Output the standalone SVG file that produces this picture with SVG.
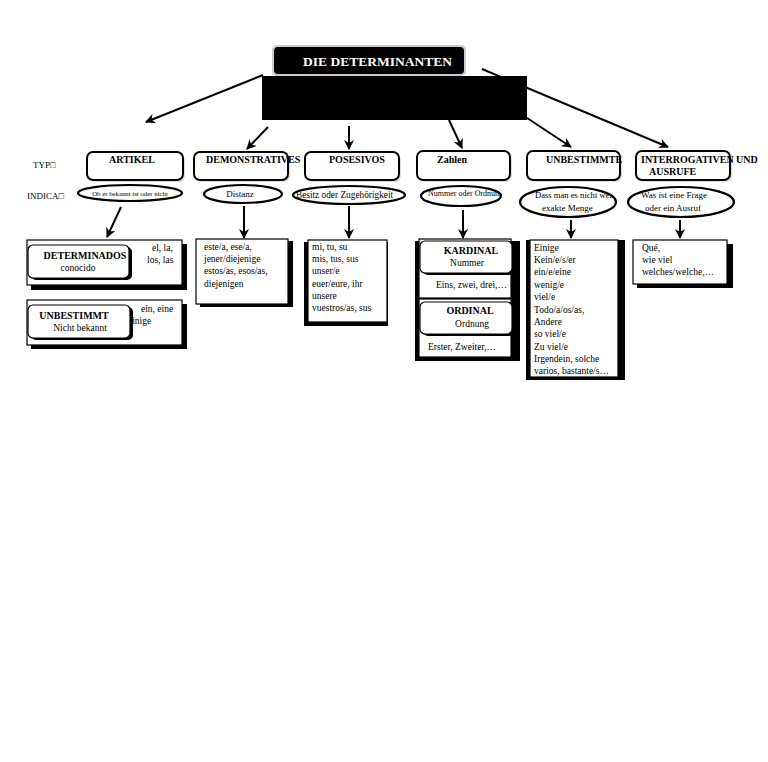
<svg xmlns="http://www.w3.org/2000/svg" width="768" height="762" viewBox="0 0 768 762">
<style>
text{font-family:"Liberation Serif","Times New Roman",serif;fill:#000}
.b{font-weight:bold}
.t{font-size:10px;font-weight:bold}
.c{font-size:9.5px}
.typ{fill:#fff;stroke:#000;stroke-width:2}
.ell{fill:#fff;stroke:#000;stroke-width:2.2}
.box{fill:#fff;stroke:#000;stroke-width:1.2}
.sh{fill:#000}
.soft{fill:#bbb;opacity:0.5}
.conn line{stroke:#000;stroke-width:2;marker-end:url(#ah)}
</style>
<defs>
<marker id="ah" viewBox="0 0 10 10" refX="9" refY="5" markerWidth="5" markerHeight="5" orient="auto" markerUnits="strokeWidth">
<path d="M0,0 L10,5 L0,10 L3,5 z" fill="#000"/>
</marker>
<clipPath id="cl1"><ellipse cx="130" cy="193" rx="51" ry="7.5"/></clipPath>
<clipPath id="cl3"><ellipse cx="349" cy="195" rx="55" ry="8.5"/></clipPath>
<clipPath id="cl4"><ellipse cx="461" cy="196" rx="39" ry="9.5"/></clipPath>
<clipPath id="cl5"><ellipse cx="568" cy="202" rx="48" ry="15"/></clipPath>
</defs>
<rect width="768" height="762" fill="#fff"/>

<g id="title">
<rect x="272" y="45" width="194" height="31" rx="5" fill="#ccc"/>
<rect x="274" y="47" width="190" height="27" rx="4" fill="#000"/>
<text x="303" y="66" class="b" font-size="13.5" style="fill:#fff">DIE DETERMINANTEN</text>
</g>
<g id="blackbox">
<rect x="262" y="76" width="265" height="44" fill="#000"/>
</g>

<g id="labels">
<text x="33" y="168" font-size="9">TYP□</text>
<text x="27" y="199" font-size="9">INDICA□</text>
</g>

<g class="conn" id="connectors">
<line x1="263" y1="75" x2="146" y2="122"/>
<line x1="268" y1="127" x2="247" y2="149"/>
<line x1="349" y1="126" x2="349" y2="149"/>
<line x1="449" y1="120" x2="462" y2="148"/>
<line x1="527" y1="118" x2="571" y2="147"/>
<line x1="482" y1="69" x2="668" y2="147"/>
<line x1="121" y1="207" x2="107" y2="237"/>
<line x1="244" y1="206" x2="244" y2="238"/>
<line x1="349" y1="206" x2="349" y2="238"/>
<line x1="463" y1="210" x2="463" y2="238"/>
<line x1="571" y1="220" x2="571" y2="238"/>
<line x1="680" y1="220" x2="680" y2="238"/>
</g>

<g id="artikel">
<rect x="89" y="154" width="96" height="28" rx="6" class="soft"/>
<rect x="87" y="152" width="96" height="28" rx="6" class="typ"/>
<text x="132" y="163" text-anchor="middle" class="t">ARTIKEL</text>
</g>
<g id="demonstratives">
<rect x="196" y="154" width="94" height="28" rx="6" class="soft"/>
<rect x="194" y="152" width="94" height="28" rx="6" class="typ"/>
<text x="206" y="163" class="t">DEMONSTRATIVES</text>
</g>
<g id="posesivos">
<rect x="307" y="154" width="94" height="28" rx="6" class="soft"/>
<rect x="305" y="152" width="94" height="28" rx="6" class="typ"/>
<text x="329" y="163" class="t">POSESIVOS</text>
</g>
<g id="zahlen">
<rect x="419" y="153" width="93" height="29" rx="6" class="soft"/>
<rect x="417" y="151" width="93" height="29" rx="6" class="typ"/>
<text x="437" y="163" class="t">Zahlen</text>
</g>
<g id="unbestimmte">
<rect x="529" y="153" width="93" height="29" rx="6" class="soft"/>
<rect x="527" y="151" width="93" height="29" rx="6" class="typ"/>
<text x="546" y="163" class="t">UNBESTIMMTE</text>
</g>
<g id="interrogativen">
<rect x="638" y="153" width="94" height="29" rx="6" class="soft"/>
<rect x="636" y="151" width="94" height="29" rx="6" class="typ"/>
<text x="641" y="163" class="t">INTERROGATIVEN UND</text>
<text x="649" y="175" class="t">AUSRUFE</text>
</g>

<g id="ind-artikel">
<ellipse cx="130" cy="193" rx="52" ry="8" class="ell"/>
<text x="130" y="195.5" text-anchor="middle" font-size="6.8" clip-path="url(#cl1)">Ob er bekannt ist oder nicht</text>
</g>
<g id="ind-demo">
<ellipse cx="243" cy="194" rx="39" ry="9" class="ell"/>
<text x="240" y="197" text-anchor="middle" font-size="9">Distanz</text>
</g>
<g id="ind-pos">
<ellipse cx="349" cy="195" rx="56" ry="9" class="ell"/>
<text x="296" y="198" font-size="9.3" clip-path="url(#cl3)">Besitz oder Zugehörigkeit</text>
</g>
<g id="ind-zahlen">
<ellipse cx="461" cy="196" rx="40" ry="10" class="ell"/>
<text x="428" y="196" font-size="8" clip-path="url(#cl4)">Nummer oder Ordnung</text>
</g>
<g id="ind-unbest">
<ellipse cx="568" cy="202" rx="48" ry="15" class="ell"/>
<text x="535" y="198" font-size="8.6" clip-path="url(#cl5)">Dass man es nicht weiß</text>
<text x="542" y="211" font-size="9">exakte Menge</text>
</g>
<g id="ind-interrog">
<ellipse cx="681" cy="202" rx="53" ry="15" class="ell"/>
<text x="641" y="198" font-size="9">Was ist eine Frage</text>
<text x="645" y="211" font-size="9">oder ein Ausruf</text>
</g>

<g id="artikel-det">
<rect x="31" y="244" width="156" height="46" class="sh"/>
<rect x="27" y="240" width="155" height="45" class="box"/>
<text x="152" y="251" class="c">el, la,</text>
<text x="147" y="263" class="c">los, las</text>
<rect x="31" y="247" width="101" height="33" rx="5" class="sh"/>
<rect x="28" y="245" width="101" height="33" rx="5" class="box"/>
<text x="85" y="259" text-anchor="middle" class="t">DETERMINADOS</text>
<text x="78" y="271" text-anchor="middle" class="c">conocido</text>
</g>
<g id="artikel-unb">
<rect x="31" y="304" width="156" height="45" class="sh"/>
<rect x="27" y="300" width="155" height="45" class="box"/>
<text x="141" y="312" class="c">ein, eine</text>
<text x="128" y="324" class="c">einige</text>
<rect x="31" y="307" width="102" height="33" rx="5" class="sh"/>
<rect x="28" y="305" width="102" height="33" rx="5" class="box"/>
<text x="74" y="319" text-anchor="middle" class="t">UNBESTIMMT</text>
<text x="80" y="331" text-anchor="middle" class="c">Nicht bekannt</text>
</g>

<g id="demo-content">
<rect x="200" y="241" width="93" height="66" class="sh"/>
<rect x="196" y="239" width="92" height="65" class="box"/>
<text x="204" y="250" class="c">este/a, ese/a,</text>
<text x="204" y="262" class="c">jener/diejenige</text>
<text x="204" y="274" class="c">estos/as, esos/as,</text>
<text x="204" y="287" class="c">diejenigen</text>
</g>

<g id="pos-content">
<rect x="304" y="242" width="84" height="84" class="sh"/>
<rect x="308" y="240" width="79" height="82" class="box"/>
<text x="312" y="250" class="c">mi, tu, su</text>
<text x="312" y="262" class="c">mis, tus, sus</text>
<text x="312" y="274" class="c">unser/e</text>
<text x="312" y="287" class="c">euer/eure, ihr</text>
<text x="312" y="299" class="c">unsere</text>
<text x="312" y="311" class="c">vuestros/as, sus</text>
</g>

<g id="zahlen-content">
<rect x="415" y="241" width="105" height="120" class="sh"/>
<rect x="419" y="239" width="92" height="59" class="box"/>
<rect x="419" y="299" width="92" height="58" class="box"/>
<rect x="423" y="243" width="91" height="32" rx="5" class="sh"/>
<rect x="420" y="241" width="92" height="32" rx="5" class="box"/>
<text x="471" y="254" text-anchor="middle" class="t">KARDINAL</text>
<text x="467" y="266" text-anchor="middle" class="c">Nummer</text>
<text x="436" y="288" class="c">Eins, zwei, drei,…</text>
<rect x="423" y="304" width="91" height="32" rx="5" class="sh"/>
<rect x="420" y="302" width="92" height="32" rx="5" class="box"/>
<text x="470" y="314" text-anchor="middle" class="t">ORDINAL</text>
<text x="472" y="327" text-anchor="middle" class="c">Ordnung</text>
<text x="428" y="350" class="c">Erster, Zweiter,…</text>
</g>

<g id="unbest-content">
<rect x="526" y="240" width="99" height="140" class="sh"/>
<rect x="530" y="240" width="88" height="137" class="box"/>
<text x="534" y="251" class="c">Einige</text>
<text x="534" y="263" class="c">Kein/e/s/er</text>
<text x="534" y="275" class="c">ein/e/eine</text>
<text x="534" y="288" class="c">wenig/e</text>
<text x="534" y="300" class="c">viel/e</text>
<text x="534" y="313" class="c">Todo/a/os/as,</text>
<text x="534" y="325" class="c">Andere</text>
<text x="534" y="337" class="c">so viel/e</text>
<text x="534" y="350" class="c">Zu viel/e</text>
<text x="534" y="362" class="c">Irgendein, solche</text>
<text x="534" y="374" class="c">varios, bastante/s…</text>
</g>

<g id="interrog-content">
<rect x="637" y="244" width="96" height="44" class="sh"/>
<rect x="633" y="240" width="94" height="44" class="box"/>
<text x="642" y="251" class="c">Qué,</text>
<text x="642" y="263" class="c">wie viel</text>
<text x="642" y="275" class="c">welches/welche,…</text>
</g>
</svg>
